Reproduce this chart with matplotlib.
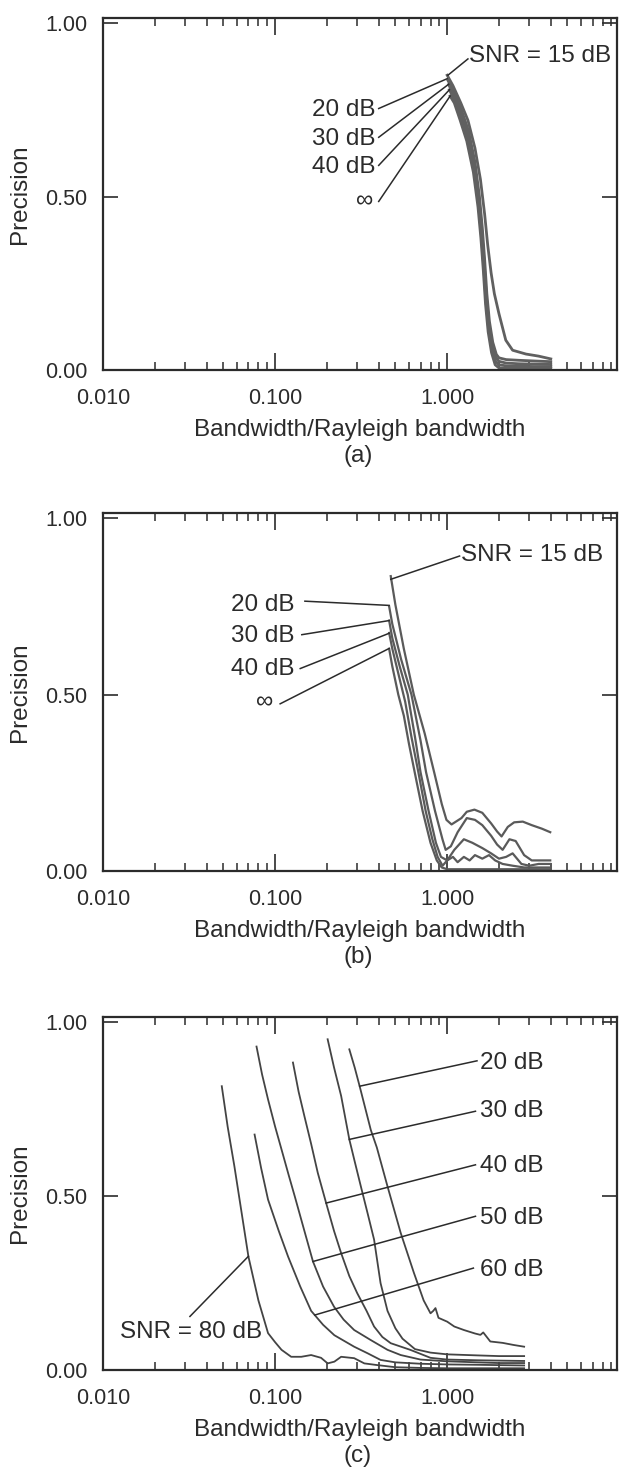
import numpy as np
import matplotlib.pyplot as plt
from matplotlib.ticker import FixedLocator, NullFormatter

plt.rcParams['font.family'] = ['Liberation Sans', 'DejaVu Sans']

INK = '#2b2b2b'
CURVE = '#5a5a5a'

# ---------------- panel (a) ----------------
a_15_x = [1.00, 1.08, 1.20, 1.32, 1.45, 1.56, 1.65, 1.72, 1.80, 1.88, 2.00, 2.19, 2.40, 2.87, 3.40, 4.00]
a_15_y = [0.85, 0.82, 0.77, 0.72, 0.64, 0.55, 0.45, 0.36, 0.28, 0.22, 0.162, 0.086, 0.057, 0.046, 0.040, 0.032]
a_20_x = [1.01, 1.10, 1.22, 1.33, 1.45, 1.54, 1.60, 1.65, 1.70, 1.76, 1.84, 1.93, 2.00, 2.20, 2.60, 3.20, 4.00]
a_20_y = [0.835, 0.80, 0.745, 0.69, 0.60, 0.50, 0.41, 0.32, 0.22, 0.14, 0.08, 0.045, 0.035, 0.030, 0.028, 0.026, 0.024]
a_30_x = [1.02, 1.10, 1.21, 1.32, 1.44, 1.53, 1.59, 1.64, 1.69, 1.75, 1.83, 1.92, 2.00, 2.20, 2.60, 3.20, 4.00]
a_30_y = [0.823, 0.79, 0.735, 0.68, 0.59, 0.49, 0.40, 0.31, 0.21, 0.13, 0.07, 0.035, 0.025, 0.020, 0.018, 0.017, 0.016]
a_40_x = [1.03, 1.10, 1.20, 1.31, 1.43, 1.52, 1.58, 1.63, 1.68, 1.74, 1.82, 1.91, 2.00, 2.20, 2.60, 3.20, 4.00]
a_40_y = [0.808, 0.78, 0.73, 0.67, 0.58, 0.48, 0.39, 0.30, 0.20, 0.12, 0.06, 0.025, 0.015, 0.012, 0.011, 0.010, 0.010]
a_inf_x = [1.04, 1.10, 1.19, 1.30, 1.42, 1.51, 1.57, 1.62, 1.67, 1.73, 1.81, 1.90, 2.00, 2.20, 2.60, 3.20, 4.00]
a_inf_y = [0.79, 0.77, 0.72, 0.66, 0.57, 0.47, 0.38, 0.29, 0.19, 0.11, 0.05, 0.015, 0.006, 0.005, 0.005, 0.005, 0.005]

# ---------------- panel (b) ----------------
b_15_x = [0.47, 0.50, 0.56, 0.64, 0.74, 0.84, 0.93, 0.99, 1.06, 1.21, 1.30, 1.44, 1.60, 1.80, 1.95, 2.07, 2.25, 2.45, 2.75, 3.10, 3.55, 3.97]
b_15_y = [0.836, 0.755, 0.63, 0.50, 0.39, 0.28, 0.19, 0.145, 0.132, 0.150, 0.168, 0.174, 0.165, 0.135, 0.112, 0.098, 0.125, 0.138, 0.140, 0.130, 0.120, 0.110]
b_20_x = [0.46, 0.48, 0.54, 0.62, 0.70, 0.754, 0.85, 0.94, 0.98, 1.05, 1.15, 1.30, 1.45, 1.60, 1.80, 1.95, 2.10, 2.30, 2.50, 2.80, 3.10, 3.50, 3.97]
b_20_y = [0.75, 0.70, 0.60, 0.50, 0.37, 0.28, 0.17, 0.089, 0.06, 0.07, 0.11, 0.15, 0.145, 0.13, 0.10, 0.075, 0.06, 0.09, 0.085, 0.045, 0.03, 0.03, 0.03]
b_30_x = [0.46, 0.48, 0.53, 0.59, 0.65, 0.70, 0.78, 0.86, 0.92, 1.00, 1.10, 1.25, 1.40, 1.60, 1.80, 2.00, 2.20, 2.40, 2.70, 3.00, 3.40, 3.97]
b_30_y = [0.71, 0.66, 0.58, 0.50, 0.38, 0.28, 0.17, 0.08, 0.04, 0.03, 0.06, 0.09, 0.08, 0.065, 0.05, 0.035, 0.04, 0.05, 0.02, 0.015, 0.02, 0.02]
b_40_x = [0.46, 0.48, 0.52, 0.57, 0.62, 0.68, 0.75, 0.82, 0.88, 0.94, 1.00, 1.08, 1.15, 1.25, 1.35, 1.45, 1.60, 1.75, 1.90, 2.10, 2.40, 2.80, 3.20, 3.97]
b_40_y = [0.675, 0.63, 0.56, 0.48, 0.38, 0.28, 0.17, 0.09, 0.04, 0.015, 0.03, 0.04, 0.025, 0.04, 0.03, 0.045, 0.035, 0.045, 0.03, 0.02, 0.015, 0.01, 0.01, 0.01]
b_inf_x = [0.46, 0.48, 0.52, 0.56, 0.60, 0.66, 0.72, 0.80, 0.87, 0.93, 1.00, 1.10, 1.30, 1.60, 2.00, 2.50, 3.00, 3.97]
b_inf_y = [0.63, 0.58, 0.50, 0.44, 0.36, 0.26, 0.17, 0.08, 0.03, 0.01, 0.005, 0.005, 0.005, 0.005, 0.005, 0.005, 0.005, 0.005]

# ---------------- panel (c) ----------------
c_80_x = [0.049, 0.053, 0.058, 0.064, 0.070, 0.080, 0.091, 0.100, 0.109, 0.124, 0.142, 0.162, 0.185, 0.202, 0.221, 0.242, 0.288, 0.33, 0.394, 0.50, 0.70, 1.00, 1.50, 2.00, 2.80]
c_80_y = [0.816, 0.70, 0.586, 0.45, 0.326, 0.20, 0.106, 0.08, 0.058, 0.038, 0.038, 0.043, 0.035, 0.019, 0.024, 0.038, 0.034, 0.019, 0.014, 0.008, 0.006, 0.005, 0.005, 0.005, 0.005]
c_60_x = [0.076, 0.083, 0.091, 0.105, 0.119, 0.140, 0.162, 0.19, 0.221, 0.288, 0.345, 0.41, 0.50, 0.70, 1.00, 1.50, 2.00, 2.80]
c_60_y = [0.677, 0.58, 0.49, 0.40, 0.326, 0.24, 0.17, 0.13, 0.10, 0.067, 0.048, 0.029, 0.022, 0.018, 0.016, 0.015, 0.014, 0.013]
c_50_x = [0.078, 0.084, 0.091, 0.100, 0.109, 0.120, 0.130, 0.148, 0.166, 0.19, 0.22, 0.25, 0.288, 0.36, 0.45, 0.537, 0.70, 1.00, 1.50, 2.00, 2.80]
c_50_y = [0.93, 0.85, 0.778, 0.70, 0.634, 0.56, 0.50, 0.40, 0.312, 0.24, 0.182, 0.145, 0.115, 0.086, 0.058, 0.043, 0.030, 0.025, 0.022, 0.020, 0.020]
c_40_x = [0.127, 0.137, 0.148, 0.162, 0.177, 0.198, 0.22, 0.242, 0.27, 0.30, 0.34, 0.376, 0.42, 0.47, 0.61, 0.80, 1.00, 1.50, 2.00, 2.80]
c_40_y = [0.884, 0.80, 0.73, 0.65, 0.567, 0.48, 0.40, 0.336, 0.27, 0.221, 0.17, 0.125, 0.095, 0.077, 0.058, 0.035, 0.030, 0.028, 0.027, 0.026]
c_30_x = [0.202, 0.22, 0.242, 0.27, 0.29, 0.315, 0.345, 0.376, 0.41, 0.45, 0.50, 0.55, 0.65, 0.80, 1.00, 1.50, 2.00, 2.80]
c_30_y = [0.951, 0.87, 0.788, 0.663, 0.60, 0.528, 0.45, 0.375, 0.25, 0.17, 0.12, 0.09, 0.06, 0.05, 0.045, 0.042, 0.040, 0.040]
c_20_x = [0.27, 0.29, 0.31, 0.36, 0.39, 0.45, 0.537, 0.64, 0.73, 0.80, 0.83, 0.855, 0.89, 1.00, 1.10, 1.25, 1.45, 1.56, 1.62, 1.78, 2.10, 2.43, 2.80]
c_20_y = [0.922, 0.87, 0.816, 0.69, 0.64, 0.528, 0.394, 0.28, 0.20, 0.163, 0.17, 0.178, 0.15, 0.139, 0.125, 0.115, 0.105, 0.101, 0.108, 0.082, 0.078, 0.072, 0.067]

# labels: (text, text_x, text_y, ha, leader start, leader end)
a_labels = [
    ('SNR = 15 dB', 1.34, 0.905, 'left', (1.32, 0.897), (1.01, 0.85)),
    ('20 dB', 0.385, 0.749, 'right', (0.40, 0.754), (1.00, 0.84)),
    ('30 dB', 0.385, 0.667, 'right', (0.40, 0.671), (1.02, 0.824)),
    ('40 dB', 0.385, 0.586, 'right', (0.40, 0.590), (1.03, 0.808)),
    ('\u221e', 0.37, 0.486, 'right', (0.40, 0.486), (1.04, 0.79)),
]
b_labels = [
    ('SNR = 15 dB', 1.21, 0.897, 'left', (1.18, 0.893), (0.47, 0.827)),
    ('20 dB', 0.130, 0.755, 'right', (0.149, 0.765), (0.46, 0.753)),
    ('30 dB', 0.130, 0.665, 'right', (0.143, 0.670), (0.46, 0.710)),
    ('40 dB', 0.130, 0.574, 'right', (0.140, 0.574), (0.46, 0.674)),
    ('\u221e', 0.098, 0.477, 'right', (0.107, 0.474), (0.46, 0.631)),
]
c_labels = [
    ('20 dB', 1.56, 0.884, 'left', (1.49, 0.889), (0.31, 0.816)),
    ('30 dB', 1.56, 0.744, 'left', (1.46, 0.744), (0.27, 0.663)),
    ('40 dB', 1.56, 0.586, 'left', (1.46, 0.590), (0.198, 0.48)),
    ('50 dB', 1.56, 0.437, 'left', (1.46, 0.442), (0.166, 0.312)),
    ('60 dB', 1.56, 0.288, 'left', (1.42, 0.293), (0.17, 0.158)),
    ('SNR = 80 dB', 0.0126, 0.11, 'left', (0.032, 0.154), (0.07, 0.327)),
]

panels = [
    ('(a)', [(a_15_x, a_15_y), (a_20_x, a_20_y), (a_30_x, a_30_y), (a_40_x, a_40_y), (a_inf_x, a_inf_y)], a_labels, 1098, 352),
    ('(b)', [(b_15_x, b_15_y), (b_20_x, b_20_y), (b_30_x, b_30_y), (b_40_x, b_40_y), (b_inf_x, b_inf_y)], b_labels, 597, 358),
    ('(c)', [(c_80_x, c_80_y), (c_60_x, c_60_y), (c_50_x, c_50_y), (c_40_x, c_40_y), (c_30_x, c_30_y), (c_20_x, c_20_y)], c_labels, 98, 353),
]

W, H = 619, 1468
fig = plt.figure(figsize=(W / 100, H / 100), dpi=100)

minor = [m * d for d in (0.01, 0.1, 1.0) for m in range(2, 10)]
FS = 17.5

for tag, curves, labels, bot, hgt in panels:
    ax = fig.add_axes([103 / W, bot / H, 514 / W, hgt / H])
    if tag == '(a)':
        lw, col = 2.0, '#606060'
    elif tag == '(b)':
        lw, col = 1.6, CURVE
    else:
        lw, col = 1.3, '#444444'
    for xs, ys in curves:
        ax.plot(xs, ys, color=col, lw=lw, solid_joinstyle='round')

    for txt, tx, ty, ha, p0, p1 in labels:
        ax.text(tx, ty, txt, ha=ha, va='center', fontsize=FS, color=INK)
        ax.plot([p0[0], p1[0]], [p0[1], p1[1]], color=INK, lw=1.1)

    ax.set_xscale('log')
    ax.set_xlim(0.01, 9.7)
    ax.set_ylim(0, 1.015)
    ax.xaxis.set_major_locator(FixedLocator([0.01, 0.1, 1.0]))
    ax.set_xticklabels(['0.010', '0.100', '1.000'])
    ax.xaxis.set_minor_locator(FixedLocator(minor))
    ax.xaxis.set_minor_formatter(NullFormatter())
    ax.set_yticks([0.0, 0.5, 1.0])
    ax.set_yticklabels(['0.00', '0.50', '1.00'])

    ax.tick_params(axis='x', which='major', direction='in', length=12, width=1.2,
                   top=True, bottom=True, labelsize=15.5, pad=13, colors=INK)
    ax.tick_params(axis='x', which='minor', direction='in', length=6, width=1.1,
                   top=True, bottom=True, colors=INK)
    ax.tick_params(axis='y', which='major', direction='in', length=11, width=1.2,
                   left=True, right=True, labelsize=15.5, pad=11, colors=INK)
    for s in ax.spines.values():
        s.set_linewidth(1.6)
        s.set_color(INK)

    ax.set_xlabel('Bandwidth/Rayleigh bandwidth', fontsize=FS, color=INK, labelpad=7)
    ax.set_ylabel('Precision', fontsize=FS, color=INK)
    ax.yaxis.set_label_coords(-83 / 514, 0.5)
    ax.yaxis.label.set_va('center')
    ax.text(0.496, -86 / hgt, tag, transform=ax.transAxes, ha='center', va='center',
            fontsize=FS, color=INK)

fig.savefig('out.png', dpi=100)
